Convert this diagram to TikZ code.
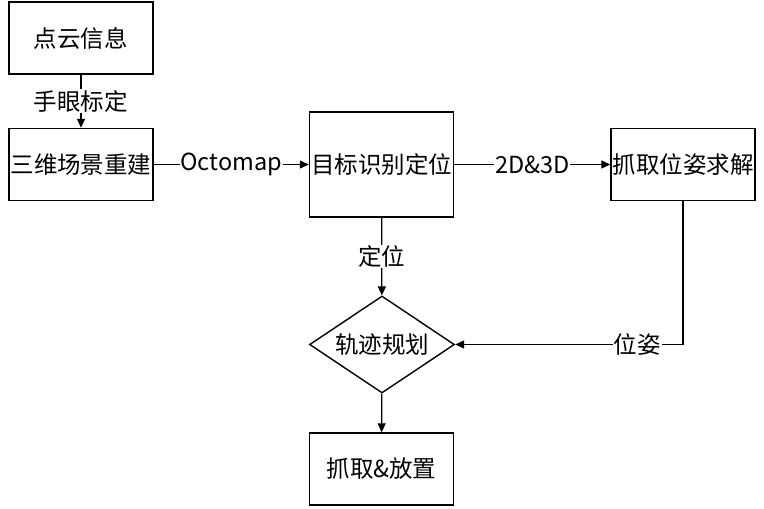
\documentclass[tikz,border=0pt]{standalone}
\usepackage{fontspec}
\setmainfont{Noto Sans CJK SC}
\usetikzlibrary{shapes.geometric,arrows.meta}

\begin{document}
\begin{tikzpicture}[x=1pt, y=-1pt, every node/.style={font=\fontsize{23.5}{28}\selectfont},
    box/.style={draw, line width=1.4pt, minimum width=144pt, minimum height=72pt, inner sep=0pt},
    arr/.style={-{Triangle[length=9pt,width=8pt]}, line width=1.3pt},
    lab/.style={fill=white, inner sep=1pt}]
  \useasboundingbox (0,0) rectangle (764,509);
  \node[box] (cloud) at (81,38) {点云信息};
  \node[box] (recon) at (81,164.5) {三维场景重建};
  \node[box, minimum height=105pt] (detect) at (381.5,164.5) {目标识别定位};
  \node[box] (pose) at (683,164.5) {抓取位姿求解};
  \node[draw, diamond, aspect=1.5, line width=1.4pt, minimum width=145pt, minimum height=97pt, inner sep=0pt] (plan) at (382,344.5) {轨迹规划};
  \node[box] (place) at (381.5,469) {抓取\&放置};
  \draw[arr] (cloud) -- node[lab] {手眼标定} (recon);
  \draw[arr] (recon) -- node[lab] {Octomap} (detect);
  \draw[arr] (detect) -- node[lab] {2D\&3D} (pose);
  \draw[arr] (detect) -- node[lab] {定位} (plan);
  \draw[arr] (pose) |- node[lab, pos=0.6] {位姿} (plan);
  \draw[arr] (plan) -- (place);
\end{tikzpicture}
\end{document}
